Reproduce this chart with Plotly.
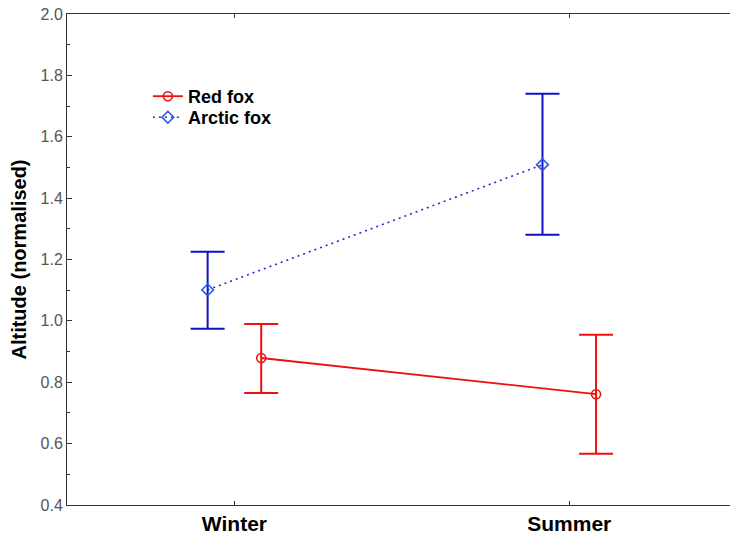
import plotly.graph_objects as go

categories = ["Winter", "Summer"]
cat_pos = [0, 1]
offset = 0.08

red_mean = [0.879, 0.761]
red_upper = [0.990, 0.955]
red_lower = [0.765, 0.567]

arctic_mean = [1.101, 1.509]
arctic_upper = [1.225, 1.740]
arctic_lower = [0.974, 1.281]

red_x = [p + offset for p in cat_pos]
arctic_x = [p - offset for p in cat_pos]

RED = "#ee1010"
BLUE = "#1010c8"

fig = go.Figure()

fig.add_trace(go.Scatter(
    x=red_x, y=red_mean, name="Red fox", mode="lines+markers",
    line=dict(color=RED, width=1.8),
    marker=dict(symbol="circle-open", size=9, color=RED, line=dict(width=1.6)),
    error_y=dict(type="data", symmetric=False,
                 array=[u - m for u, m in zip(red_upper, red_mean)],
                 arrayminus=[m - l for m, l in zip(red_mean, red_lower)],
                 color=RED, thickness=2, width=17),
    legend="legend",
))

fig.add_trace(go.Scatter(
    x=arctic_x, y=arctic_mean, name="Arctic fox", mode="lines+markers",
    line=dict(color="#2a2ad0", width=1.6, dash="2px,4px"),
    marker=dict(symbol="diamond-open", size=9, color="#2a5ae8", line=dict(width=1.6)),
    error_y=dict(type="data", symmetric=False,
                 array=[u - m for u, m in zip(arctic_upper, arctic_mean)],
                 arrayminus=[m - l for m, l in zip(arctic_mean, arctic_lower)],
                 color=BLUE, thickness=2, width=17),
    legend="legend2",
))

legend_font = dict(size=18, color="#000", weight="bold")

fig.update_layout(
    width=730, height=542,
    margin=dict(l=67, r=0, t=14, b=37),
    paper_bgcolor="white", plot_bgcolor="white",
    font=dict(family="Arial, Liberation Sans, sans-serif", color="#000"),
    showlegend=True,
    legend=dict(x=0.122, y=0.832, xanchor="left", yanchor="middle",
                bgcolor="rgba(0,0,0,0)", borderwidth=0, font=legend_font),
    legend2=dict(x=0.122, y=0.789, xanchor="left", yanchor="middle",
                 bgcolor="rgba(0,0,0,0)", borderwidth=0, font=legend_font),
)

fig.update_xaxes(
    range=[-0.5, 1.48],
    tickvals=cat_pos, ticktext=categories,
    tickfont=dict(size=21, color="#000", weight="bold"),
    showgrid=False, zeroline=False,
    showline=True, linecolor="#333", linewidth=1,
    ticks="inside", ticklen=4, tickcolor="#333",
    mirror="ticks", automargin=False,
)

fig.update_yaxes(
    range=[0.4, 2.0], dtick=0.2, tickformat=".1f",
    tickfont=dict(size=16, color="#555"),
    title=dict(text="Altitude (normalised)", font=dict(size=20, color="#000", weight="bold"), standoff=8),
    showgrid=False, zeroline=False,
    showline=True, linecolor="#333", linewidth=1,
    ticks="inside", ticklen=5, tickcolor="#333",
    minor=dict(dtick=0.1, ticks="inside", ticklen=3, tickcolor="#333", showgrid=False),
    automargin=False,
)

fig.write_html(
    "out.html",
    config={"displayModeBar": False},
    post_script="document.body.style.margin='0';document.documentElement.style.overflow='hidden';",
)
